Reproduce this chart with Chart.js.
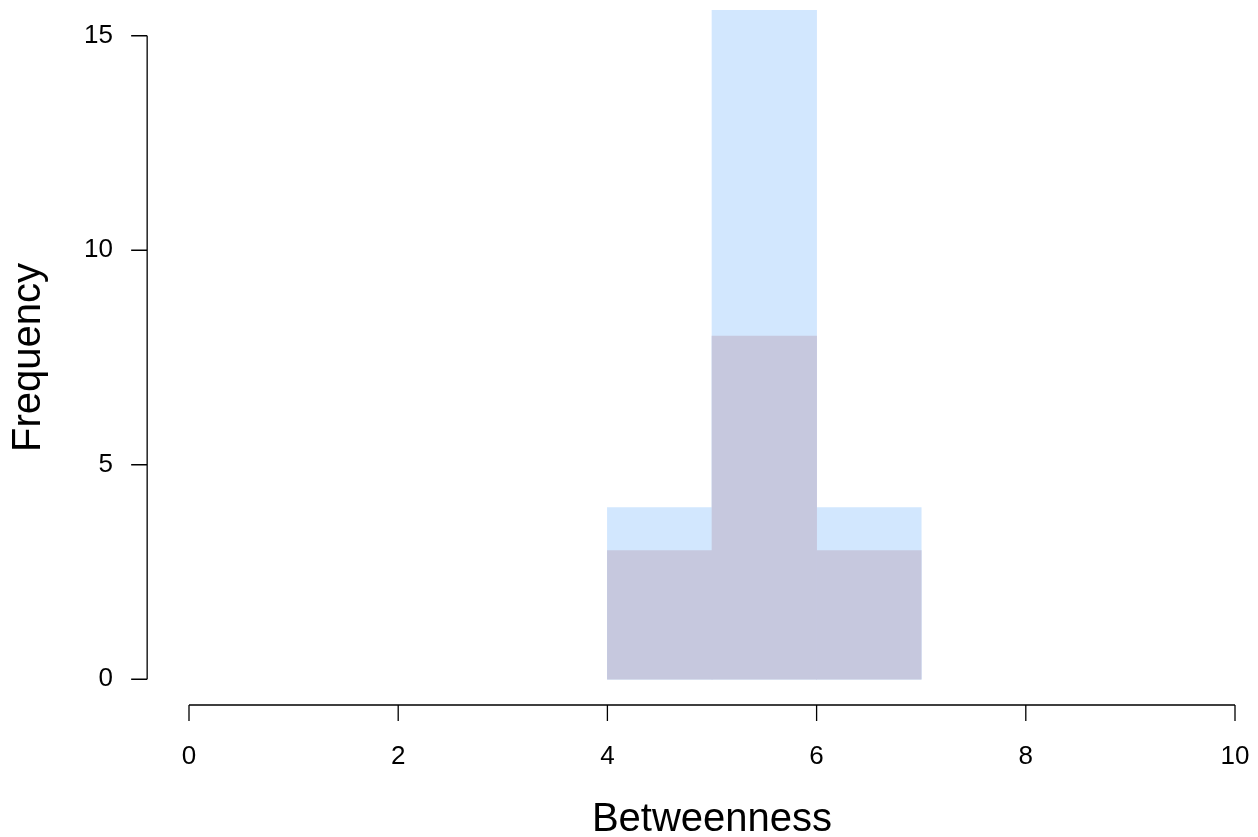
<!DOCTYPE html>
<html>
<head>
<meta charset="utf-8">
<title>Betweenness histogram</title>
<script src="https://cdn.jsdelivr.net/npm/chart.js@4/dist/chart.umd.min.js"></script>
<style>
  body { margin: 0; background: #fff; }
  canvas { display: block; }
</style>
</head>
<body>
<canvas id="hist" width="1258" height="837"></canvas>
<script>
// Histogram bins (bin centres), counts for the two overlaid series
const binCenters = [4.5, 5.5, 6.5];
const countsAll = [4, 16, 4];      // light blue (tallest bar is cut off by the plot top)
const countsSub = [3, 8, 3];       // overlap colour
const xTicks = [0, 2, 4, 6, 8, 10];
const yTicks = [0, 5, 10, 15];

const FONT = "'Liberation Sans', Arial, sans-serif";

const toPoints = counts => binCenters.map((x, i) => ({ x, y: counts[i] }));

// R-style axes: lines only between the first and last tick, ticks pointing out
const rAxes = {
  id: 'rAxes',
  afterDraw(chart) {
    const { ctx, scales: { x, y } } = chart;
    const ax = x.getPixelForValue(-0.4);
    const ay = y.getPixelForValue(-0.6);
    const tick = 16;
    ctx.save();
    ctx.strokeStyle = '#000';
    ctx.lineWidth = 1.3;
    ctx.beginPath();
    ctx.moveTo(ax, y.getPixelForValue(yTicks[0]));
    ctx.lineTo(ax, y.getPixelForValue(yTicks[yTicks.length - 1]));
    yTicks.forEach(v => {
      const py = y.getPixelForValue(v);
      ctx.moveTo(ax, py);
      ctx.lineTo(ax - tick, py);
    });
    ctx.moveTo(x.getPixelForValue(xTicks[0]), ay);
    ctx.lineTo(x.getPixelForValue(xTicks[xTicks.length - 1]), ay);
    xTicks.forEach(v => {
      const px = x.getPixelForValue(v);
      ctx.moveTo(px, ay);
      ctx.lineTo(px, ay + tick);
    });
    ctx.stroke();
    ctx.restore();
  }
};

new Chart(document.getElementById('hist'), {
  type: 'bar',
  data: {
    datasets: [
      {
        label: 'subset',
        data: toPoints(countsSub),
        backgroundColor: '#c6c8de',
        order: 1
      },
      {
        label: 'all',
        data: toPoints(countsAll),
        backgroundColor: '#d2e7fe',
        order: 2
      }
    ]
  },
  options: {
    responsive: false,
    animation: false,
    layout: { padding: { top: 10, right: 23, left: 0, bottom: 0 } },
    datasets: {
      bar: {
        grouped: false,
        barPercentage: 1,
        categoryPercentage: 1,
        borderWidth: 0,
        clip: 0
      }
    },
    plugins: { legend: { display: false }, tooltip: { enabled: false } },
    scales: {
      x: {
        type: 'linear',
        offset: false,
        min: 0,
        max: 10,
        afterBuildTicks: s => { s.ticks = xTicks.map(v => ({ value: v })); },
        afterFit: s => { s.height = 132; s.paddingLeft = 0; s.paddingRight = 0; },
        grid: { display: false, drawTicks: false },
        border: { display: false },
        ticks: { color: '#000', padding: 36, maxRotation: 0, font: { family: FONT, size: 26 } },
        title: {
          display: true,
          text: 'Betweenness',
          color: '#000',
          padding: { top: 0, bottom: 1 },
          font: { family: FONT, size: 40, lineHeight: 0.8 }
        }
      },
      y: {
        type: 'linear',
        min: -0.6,
        max: 15.6,
        afterBuildTicks: s => { s.ticks = yTicks.map(v => ({ value: v })); },
        afterFit: s => { s.width = 189; s.paddingTop = 0; s.paddingBottom = 0; },
        grid: { display: false, drawTicks: false },
        border: { display: false },
        ticks: { color: '#000', padding: 76, font: { family: FONT, size: 26 } },
        title: {
          display: true,
          text: 'Frequency',
          color: '#000',
          padding: { top: 5, bottom: 0 },
          font: { family: FONT, size: 40 }
        }
      }
    }
  },
  plugins: [rAxes]
});
</script>
</body>
</html>
